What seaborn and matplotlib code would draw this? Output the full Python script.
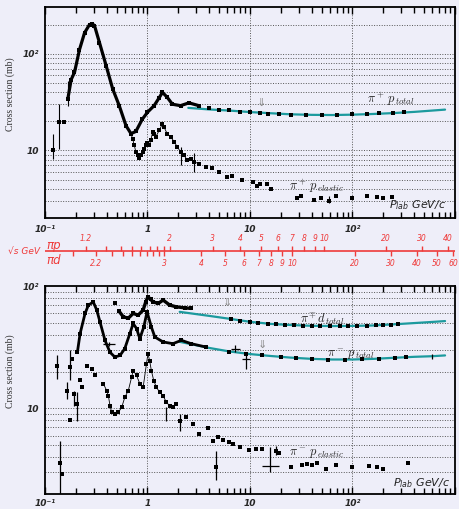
import numpy as np
import pandas as pd
import matplotlib
matplotlib.use("Agg")
import matplotlib.pyplot as plt
import seaborn as sns
from matplotlib.ticker import FixedLocator, FixedFormatter, LogLocator, NullFormatter

sns.set_theme(style="white")
plt.rcParams["font.family"] = ["DejaVu Sans"]
plt.rcParams["mathtext.fontset"] = "cm"

# ---------------- upper panel: pi+ p ----------------
pip_tot_p = [0.12, 0.137, 0.152, 0.167, 0.18, 0.194, 0.217, 0.243, 0.272, 0.29, 0.304,
             0.34, 0.395, 0.458, 0.53, 0.617, 0.69, 0.77, 0.89, 1.0, 1.16, 1.3, 1.4,
             1.56, 1.75, 2.1, 2.54, 3.17, 4.0, 5.0, 6.2, 8.0, 10.0, 12.5, 15.0, 19.0,
             25.0, 35.0, 50.0, 70.0, 100.0, 140.0, 180.0, 250.0, 320.0]
pip_tot_sig = [10.0, 19.6, 19.5, 34.0, 54.0, 64.0, 110.0, 164.0, 200.0, 203.0, 195.0,
               130.0, 75.0, 43.0, 29.0, 18.0, 14.9, 15.7, 21.0, 24.8, 29.0, 35.0, 39.8,
               35.3, 30.0, 29.0, 31.0, 29.0, 27.6, 26.4, 25.9, 25.1, 24.8, 24.2, 24.0,
               23.5, 23.3, 23.1, 23.3, 23.2, 23.6, 23.8, 24.2, 24.3, 24.7]
pip_tot_err_lo = [1.8, 9.2, 0, 5, 0, 0]
pip_tot_err_hi = [4.8, 10.4, 0, 18, 0, 0]

pip_fit_p = [2.5, 4.0, 6.3, 10.0, 16.0, 25.0, 40.0, 63.0, 100.0, 160.0, 250.0, 400.0, 630.0, 800.0]
pip_fit_sig = [27.5, 26.5, 25.8, 24.9, 24.2, 23.6, 23.3, 23.2, 23.4, 23.8, 24.3, 25.0, 25.9, 26.4]

pip_el_p = [0.69, 0.716, 0.743, 0.77, 0.80, 0.83, 0.862, 0.895, 0.929, 0.964, 1.0, 1.04,
            1.078, 1.12, 1.16, 1.2, 1.3, 1.40, 1.45, 1.56, 1.69, 1.82, 1.96, 2.11, 2.27,
            2.45, 2.64, 2.84, 3.18, 3.69, 4.28, 4.97, 5.95, 6.7, 8.4, 10.8, 11.6, 12.6,
            14.5, 16.2, 28.5, 31.6, 42.4, 49.0, 59.0, 68.4, 99.0, 140.0, 172.0, 200.0, 245.0]
pip_el_sig = [14.8, 13.2, 11.3, 9.6, 8.9, 8.4, 8.9, 9.6, 10.4, 11.3, 12.0, 11.3,
              12.7, 15.4, 14.8, 13.7, 16.1, 18.8, 17.4, 14.8, 13.7, 12.3, 10.8, 9.6, 8.9,
              7.9, 8.2, 7.6, 7.3, 6.76, 6.5, 6.0, 5.3, 5.5, 4.9, 4.7, 4.25, 4.5,
              4.45, 4.0, 3.2, 3.35, 3.1, 3.25, 3.0, 3.35, 3.2, 3.35, 3.3, 3.2, 3.3]

# ---------------- lower panel: pi- p and pi d ----------------
pim_tot_p = [0.131, 0.164, 0.176, 0.183, 0.207, 0.22, 0.246, 0.265, 0.296, 0.32, 0.344,
             0.385, 0.43, 0.48, 0.54, 0.6, 0.673, 0.725, 0.782, 0.842, 0.92, 0.99, 1.09,
             1.18, 1.42, 1.77, 2.14, 2.67, 3.74, 6.3, 9.1, 13.2, 20.0, 28.0, 40.0, 58.0,
             85.0, 123.0, 180.0, 261.0, 330.0]
pim_tot_sig = [22.4, 14.0, 21.7, 25.4, 28.8, 40.9, 59.7, 69.8, 74.0, 63.5, 50.9,
               36.0, 28.8, 26.3, 27.1, 30.8, 40.9, 49.4, 44.9, 37.2, 46.3, 61.5, 46.3,
               38.3, 34.9, 33.8, 36.0, 33.8, 31.7, 28.8, 28.0, 27.1, 26.3, 25.9, 25.3, 25.0,
               25.0, 25.2, 25.5, 25.9, 26.2]
pim_tot_err_lo = [4.9, 2.0, 4.7]
pim_tot_err_hi = [4.7, 2.4, 8.3]

pim_fit_p = [2.06, 4.0, 6.3, 10.0, 16.0, 25.0, 40.0, 63.0, 100.0, 160.0, 250.0, 400.0, 600.0, 800.0]
pim_fit_sig = [35.0, 31.2, 29.2, 27.8, 26.8, 26.0, 25.4, 25.1, 25.1, 25.4, 25.9, 26.4, 26.7, 27.1]

pid_tot_p = [0.48, 0.53, 0.58, 0.65, 0.725, 0.81, 0.906, 0.96, 1.01, 1.07, 1.13, 1.27,
             1.42, 1.65, 1.91, 2.3, 2.67, 6.5, 8.0, 10.0, 12.0, 15.0, 18.0, 22.0, 27.0,
             33.0, 40.0, 48.0, 60.0, 75.0, 90.0, 110.0, 140.0, 170.0, 200.0, 240.0, 280.0]
pid_tot_sig = [72.0, 62.0, 56.0, 54.6, 59.7, 57.8, 63.5, 74.0, 81.7, 78.0, 74.3, 72.0,
               76.7, 69.8, 67.6, 66.3, 65.6, 53.5, 52.0, 50.8, 50.0, 49.3, 48.6, 48.2, 47.8,
               47.5, 47.3, 47.2, 47.1, 47.0, 47.2, 47.3, 47.5, 47.8, 48.1, 48.4, 48.7]

pid_fit_p = [2.06, 4.0, 6.3, 10.0, 16.0, 25.0, 40.0, 63.0, 100.0, 160.0, 250.0, 400.0, 630.0, 800.0]
pid_fit_sig = [61.5, 57.0, 54.0, 51.0, 49.0, 48.0, 47.3, 47.1, 47.2, 47.6, 48.6, 49.8, 51.0, 51.7]

pim_el_p = [0.141, 0.146, 0.175, 0.19, 0.204, 0.22, 0.229, 0.255, 0.286, 0.308, 0.371,
            0.40, 0.415, 0.431, 0.447, 0.48, 0.52, 0.56, 0.60, 0.65, 0.70, 0.725, 0.782,
            0.842, 0.907, 0.977, 1.01, 1.05, 1.09, 1.15, 1.22, 1.32, 1.42, 1.53, 1.65,
            1.77, 1.91, 2.06, 2.4, 2.77, 3.2, 3.87, 4.33, 4.68, 4.85, 5.5, 6.3, 6.8,
            7.9, 9.8, 11.4, 13.2, 18.0, 19.2, 25.0, 32.3, 36.3, 40.2, 45.2, 54.6, 69.0,
            99.0, 144.0, 174.0, 200.0, 350.0]
pim_el_sig = [3.6, 2.9, 8.0, 13.0, 10.9, 17.0, 15.0, 22.4, 21.1, 18.6, 15.9,
              14.0, 12.7, 10.5, 9.3, 9.0, 9.3, 10.2, 12.3, 14.0, 18.0, 20.4, 18.6,
              15.9, 14.9, 23.2, 28.0, 24.5, 20.4, 16.9, 14.9, 13.5, 12.7, 11.2, 10.5,
              10.2, 10.9, 7.9, 8.5, 7.4, 6.2, 6.9, 5.4, 3.3, 5.8, 5.5, 5.3, 5.1,
              4.8, 4.6, 4.7, 4.7, 4.5, 4.3, 3.3, 3.45, 3.5, 3.45, 3.55, 3.2, 3.45,
              3.3, 3.4, 3.3, 3.2, 3.55]

# cross-shaped measurements (value, x-range, y-range)
cross_p = [0.42, 7.2, 9.1, 15.8]
cross_sig = [33.8, 30.8, 25.4, 3.4]
cross_p_lo = [0.37, 6.5, 8.4, 13.2]
cross_p_hi = [0.48, 7.9, 10.0, 19.2]
cross_sig_lo = [32.5, 29.0, 21.0, 3.0]
cross_sig_hi = [35.0, 33.0, 28.8, 4.8]

# ---------------- centre-of-mass energy scale ----------------
sqrt_s_pp = [1.2, 1.3, 1.4, 1.5, 1.6, 1.7, 1.8, 1.9, 2, 3, 4, 5, 6, 7, 8, 9, 10, 20, 30, 40]
sqrt_s_pp_labels = ["1.2", "", "", "", "", "", "", "", "2", "3", "4", "5", "6", "7", "8",
                    "9", "10", "20", "30", "40"]
sqrt_s_pd = [2.1, 2.2, 2.3, 2.4, 2.5, 2.6, 2.7, 2.8, 2.9, 3, 4, 5, 6, 7, 8, 9, 10, 20, 30,
             40, 50, 60]
sqrt_s_pd_labels = ["", "2.2", "", "", "", "", "", "", "", "3", "4", "5", "6", "7", "8",
                    "9", "10", "20", "30", "40", "50", "60"]

M_PI, M_P, M_D = 0.13957, 0.93827, 1.87561


def plab_from_sqrt_s(rs, m_target):
    rs = np.asarray(rs, dtype=float)
    e = (rs ** 2 - m_target ** 2 - M_PI ** 2) / (2 * m_target)
    return np.sqrt(e ** 2 - M_PI ** 2)


BG = "#EEEEF9"
RED = "#EE3B3B"
TEAL = "#1C9A9E"
GRID_Y = [3, 4, 5, 6, 7, 8, 9, 10, 20, 30, 40, 50, 60, 70, 80, 90, 100, 200]

fig = plt.figure(figsize=(4.6, 5.09), dpi=100, facecolor=BG)
W, H = 460.0, 509.0
ax_top = fig.add_axes([45 / W, 1 - 218 / H, 410 / W, (218 - 7.5) / H])
ax_bot = fig.add_axes([45 / W, 1 - 494 / H, 410 / W, (494 - 286) / H])
ax_mid = fig.add_axes([45 / W, 1 - 272 / H, 410 / W, 40 / H])


def style_panel(ax, ymin, ymax, xpad):
    ax.set_xscale("log")
    ax.set_yscale("log")
    ax.set_xlim(0.1, 1000)
    ax.set_ylim(ymin, ymax)
    ax.set_facecolor("none")
    for sp in ax.spines.values():
        sp.set_linewidth(1.3)
        sp.set_color("black")
    for gy in GRID_Y:
        if ymin < gy < ymax:
            ax.axhline(gy, color="#555555", lw=0.7, ls=(0, (1, 1.6)), zorder=0)
    for gx in [1, 10, 100]:
        ax.axvline(gx, color="#555555", lw=0.7, ls=(0, (1, 1.6)), zorder=0)
    ax.xaxis.set_major_locator(FixedLocator([0.1, 1, 10, 100, 1000]))
    ax.xaxis.set_major_formatter(FixedFormatter(["10⁻¹", "1", "10", "10²", ""]))
    ax.xaxis.set_minor_locator(LogLocator(base=10, subs=np.arange(2, 10)))
    ax.xaxis.set_minor_formatter(NullFormatter())
    ax.tick_params(axis="x", which="both", direction="in", top=True, bottom=True,
                   width=1.0, color="black", pad=xpad, labelsize=6.5)
    ax.tick_params(axis="x", which="major", length=5)
    ax.tick_params(axis="x", which="minor", length=4)
    ax.yaxis.set_major_locator(FixedLocator([10, 100]))
    ax.yaxis.set_major_formatter(FixedFormatter(["10", "10²"]))
    ax.yaxis.set_minor_locator(FixedLocator([]))
    ax.tick_params(axis="y", which="both", length=0, pad=4, labelsize=6.5)
    for lab in ax.get_xticklabels() + ax.get_yticklabels():
        lab.set_fontweight("bold")
        lab.set_fontstyle("italic")
    ax.set_xlabel("")
    ax.set_ylabel("Cross section (mb)", family="Liberation Serif", fontsize=7,
                  color="#333333")
    ax.yaxis.set_label_coords(-0.072, 0.59)


def points(ax, p, s, size=4):
    sns.scatterplot(x=p, y=s, ax=ax, marker="s", s=size, color="black",
                    linewidth=0, zorder=4, legend=False)


def band(ax, p, s, lo, hi, lw=2.0):
    df = pd.DataFrame({"p": p, "s": s})
    df = df[(df.p >= lo) & (df.p <= hi)]
    sns.lineplot(data=df, x="p", y="s", ax=ax, sort=False, estimator=None,
                 color="black", lw=lw, zorder=3, legend=False)


def fit(ax, p, s):
    sns.lineplot(x=p, y=s, ax=ax, sort=False, estimator=None, color=TEAL,
                 lw=1.6, zorder=2, legend=False)


# ---- upper panel ----
fit(ax_top, pip_fit_p, pip_fit_sig)
band(ax_top, pip_tot_p, pip_tot_sig, 0.16, 3.3, lw=2.3)
points(ax_top, pip_tot_p, pip_tot_sig, size=6)
ax_top.errorbar(pip_tot_p[:6], pip_tot_sig[:6], yerr=[pip_tot_err_lo, pip_tot_err_hi],
                fmt="none", ecolor="black", elinewidth=0.8, zorder=3)
band(ax_top, pip_el_p, pip_el_sig, 0.68, 3.3, lw=0.6)
points(ax_top, pip_el_p, pip_el_sig, size=5)
ax_top.errorbar([2.11, 2.84, 59.0], [9.6, 7.6, 3.0], yerr=[[2.6, 1.6, 0.15], [1.3, 1.7, 0.35]],
                fmt="none", ecolor="black", elinewidth=0.8, zorder=3)

ax_top.text(12.8, 31, "⇓", color="#888888", fontsize=8, ha="center", va="center")
ax_top.text(140, 34, r"$\pi^+\,p_{\,total}$", fontsize=9, ha="left", va="center")
ax_top.text(24, 4.3, r"$\pi^+\,p_{\,elastic}$", fontsize=9, ha="left", va="center")
ax_top.text(225, 2.7, r"$P_{lab}$ GeV/c", fontsize=8, ha="left", va="center",
            style="italic", math_fontfamily="dejavusans", color="#222222")
style_panel(ax_top, 2, 300, xpad=5)

# ---- lower panel ----
fit(ax_bot, pid_fit_p, pid_fit_sig)
fit(ax_bot, pim_fit_p, pim_fit_sig)
band(ax_bot, pid_tot_p, pid_tot_sig, 0.5, 2.7, lw=2.4)
points(ax_bot, pid_tot_p, pid_tot_sig, size=6)
band(ax_bot, pim_tot_p, pim_tot_sig, 0.2, 3.8, lw=2.0)
points(ax_bot, pim_tot_p, pim_tot_sig, size=6)
ax_bot.errorbar(pim_tot_p[:3], pim_tot_sig[:3], yerr=[pim_tot_err_lo, pim_tot_err_hi],
                fmt="none", ecolor="black", elinewidth=0.9, zorder=3)
band(ax_bot, pim_el_p, pim_el_sig, 0.36, 1.8, lw=0.6)
points(ax_bot, pim_el_p, pim_el_sig, size=5)
ax_bot.errorbar([0.141, 0.204, 0.19, 1.53, 2.06, 4.68, 18.0],
                [3.6, 10.9, 13.0, 9.0, 7.9, 3.3, 4.5],
                yerr=[[1.6, 3.0, 2.5, 1.1, 1.4, 0.7, 0.3], [1.8, 2.6, 1.0, 1.2, 1.1, 1.2, 0.4]],
                fmt="none", ecolor="black", elinewidth=0.9, zorder=3)
ax_bot.errorbar(cross_p, cross_sig,
                xerr=[np.subtract(cross_p, cross_p_lo), np.subtract(cross_p_hi, cross_p)],
                yerr=[np.subtract(cross_sig, cross_sig_lo), np.subtract(cross_sig_hi, cross_sig)],
                fmt="none", ecolor="black", elinewidth=0.9, zorder=3)
ax_bot.errorbar([593.0], [26.6], yerr=[[1.2], [1.4]], fmt="none", ecolor="black",
                elinewidth=0.9, zorder=3)

ax_bot.text(5.97, 72, "⇓", color="#888888", fontsize=8, ha="center", va="center")
ax_bot.text(13.1, 33, "⇓", color="#888888", fontsize=8, ha="center", va="center")
ax_bot.text(31, 53.5, r"$\pi^{\mp}\,d_{\,total}$", fontsize=9, ha="left", va="center")
ax_bot.text(57, 27.3, r"$\pi^-\,p_{\,total}$", fontsize=9, ha="left", va="center")
ax_bot.text(24, 4.3, r"$\pi^-\,p_{\,elastic}$", fontsize=9, ha="left", va="center")
ax_bot.text(250, 2.45, r"$P_{lab}$ GeV/c", fontsize=8, ha="left", va="center",
            style="italic", math_fontfamily="dejavusans", color="#222222")
style_panel(ax_bot, 2, 100, xpad=3.5)

# ---- sqrt(s) scale between the panels ----
ax_mid.set_xscale("log")
ax_mid.set_xlim(0.1, 1000)
ax_mid.set_ylim(0, 1)
ax_mid.axis("off")
y0 = 0.525
ax_mid.axhline(y0, color=RED, lw=1.2)
pp_pos = plab_from_sqrt_s(sqrt_s_pp, M_P)
pd_pos = plab_from_sqrt_s(sqrt_s_pd, M_D)
ax_mid.vlines(pp_pos, y0, y0 + 0.12, color=RED, lw=1.0)
ax_mid.vlines(pd_pos, y0 - 0.12, y0, color=RED, lw=1.0)
for x, lab in zip(pp_pos, sqrt_s_pp_labels):
    if lab:
        ax_mid.text(x, 0.83, lab, color=RED, fontsize=5.5, style="italic",
                    ha="center", va="center")
for x, lab in zip(pd_pos, sqrt_s_pd_labels):
    if lab:
        ax_mid.text(x, 0.2, lab, color=RED, fontsize=5.5, style="italic",
                    ha="center", va="center")
fig.text(8 / W, 1 - 251 / H, "√s GeV", color=RED, fontsize=6.5, style="italic",
         ha="left", va="center")
fig.text(46 / W, 1 - 245 / H, "πp", color=RED, fontsize=8.5, style="italic",
         ha="left", va="center")
fig.text(46 / W, 1 - 261 / H, "πd", color=RED, fontsize=8.5, style="italic",
         ha="left", va="center")

fig.savefig("out.png", dpi=100, facecolor=BG)
